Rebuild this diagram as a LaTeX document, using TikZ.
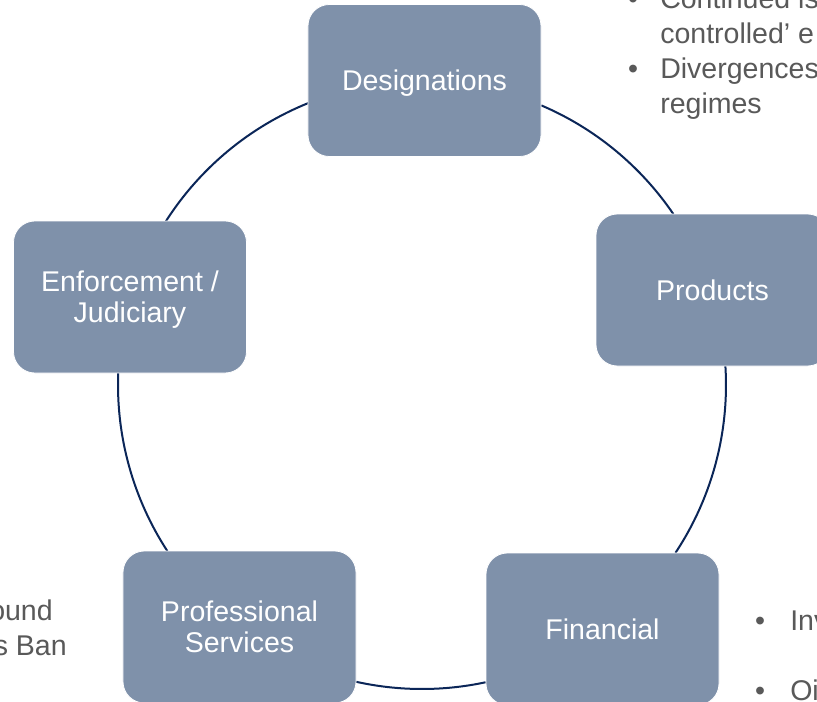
\documentclass[tikz,border=0pt]{standalone}
\usepackage{fontspec}
\setmainfont{Liberation Sans}

\definecolor{stagefill}{HTML}{7F91AA}
\definecolor{ringblue}{HTML}{0B2658}
\definecolor{notegray}{HTML}{595959}

\tikzset{
    stage/.style={rectangle, rounded corners=16pt, fill=stagefill, draw=white, line width=0.6pt,
        minimum width=174.75pt, minimum height=114pt, inner sep=0pt, outer sep=0pt,
        align=center, text=white, text depth=0pt, font=\fontsize{21.4}{23.3}\selectfont},
    ring/.style={draw=ringblue, line width=1.5pt},
    note/.style={anchor=base west, inner sep=0pt, text=notegray, font=\fontsize{21.4}{26}\selectfont},
    dot/.style={anchor=base, inner sep=0pt, text=notegray, font=\fontsize{21.4}{26}\selectfont}
}

\begin{document}
\begin{tikzpicture}[x=0.75pt, y=0.75pt]

\pgfmathsetmacro\ringradius{304}

\path[use as bounding box, fill=white] (-422,-316) rectangle (395,385);

% where the ring runs into the boxes
\foreach \name/\angle in {desig-east/66.9, prod-north/34.2, prod-south/3.6, fin-north/-33.5,
    fin-west/-77.9, prof-east/-102.5, prof-north/213.1, enf-south/177.7, enf-north/147.4, desig-west/112}
    \coordinate (\name) at (\angle:\ringradius);

% ring pieces between the boxes
\foreach \from/\start/\stop in {desig-east/66.9/34.2, prod-south/3.6/-33.5, fin-west/-77.9/-102.5,
    prof-north/213.1/177.7, enf-north/147.4/112}
    \draw[ring] (\from) arc[start angle=\start, end angle=\stop, radius=\ringradius];

% the five boxes
\node[stage] (desig) at (2.5,304.5) {Designations};
\node[stage] (prod) at (290.5,95) {Products};
\node[stage] (fin) at (180.5,-244) {Financial};
\node[stage] (prof) at (-182.5,-242) {Professional\\Services};
\node[stage] (enf) at (-292,88) {Enforcement /\\Judiciary};

% notes at the edges
\node[dot] (dot-cont) at (211,377) {•};
\node[note] (cont-a) at (238,377) {Continued is};
\node[note] (cont-b) at (238,342) {controlled’ e};
\node[dot] (dot-div) at (211,307) {•};
\node[note] (div-a) at (238,307) {Divergences};
\node[note] (div-b) at (238,272) {regimes};

\node[dot] (dot-inv) at (338,-245) {•};
\node[note] (inv) at (368,-245) {Inv};
\node[dot] (dot-oi) at (338,-315) {•};
\node[note] (oi) at (368,-315) {Oi};

\node[note, anchor=base east] (ound) at (-369,-235) {ound};
\node[note, anchor=base east] (ban) at (-355,-270) {s Ban};

\end{tikzpicture}
\end{document}
